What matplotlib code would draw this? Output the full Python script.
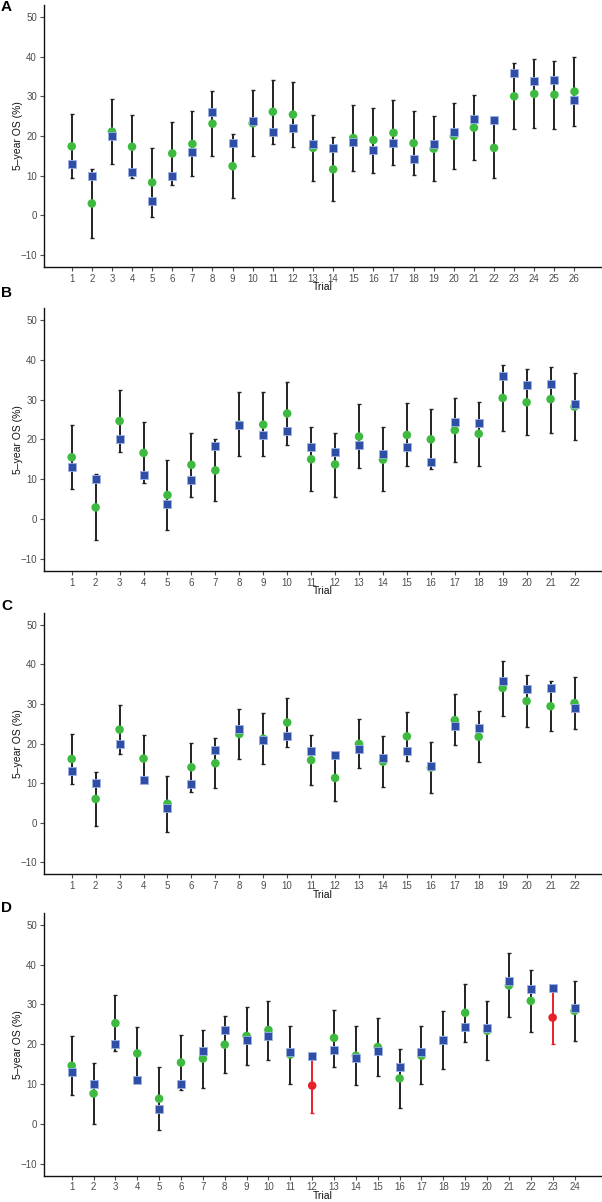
import matplotlib
matplotlib.use("Agg")
import matplotlib.pyplot as plt
import numpy as np

plt.rcParams['font.family'] = ['Liberation Sans', 'DejaVu Sans']

# ---------------- data ----------------
# Panel A (26 trials)
a_obs = [13.0, 10.0, 20.0, 11.0, 3.7, 9.9, 16.0, 26.0, 18.3, 23.7, 21.0, 22.1, 18.0,
         17.0, 18.5, 16.5, 18.2, 14.3, 18.0, 21.1, 24.4, 24.1, 35.9, 33.8, 34.1, 29.1]
a_pred = [17.4, 3.0, 21.1, 17.3, 8.3, 15.6, 18.0, 23.1, 12.4, 23.2, 26.1, 25.4, 17.0,
          11.6, 19.5, 19.0, 20.8, 18.2, 16.8, 20.0, 22.1, 17.0, 30.0, 30.6, 30.4, 31.2]
a_lo = [9.4, -5.8, 13.0, 9.4, -0.4, 7.6, 9.8, 15.0, 4.4, 15.0, 18.0, 17.3, 8.7,
        3.5, 11.2, 10.8, 12.8, 10.2, 8.6, 11.8, 13.9, 9.3, 21.7, 22.0, 21.7, 22.5]
a_hi = [25.5, 11.8, 29.4, 25.2, 17.0, 23.6, 26.3, 31.4, 20.5, 31.5, 34.1, 33.7, 25.3,
        19.7, 27.7, 27.1, 29.0, 26.4, 25.0, 28.3, 30.3, 24.7, 38.4, 39.3, 38.9, 39.9]

# Panel B (22 trials)
b_obs = [13.0, 10.0, 20.0, 11.0, 3.7, 9.8, 18.3, 23.6, 21.0, 22.0, 18.0,
         16.9, 18.5, 16.4, 18.0, 14.3, 24.3, 24.0, 35.8, 33.7, 34.0, 29.0]
b_pred = [15.5, 2.9, 24.6, 16.6, 6.0, 13.6, 12.2, 23.7, 23.7, 26.5, 15.0,
          13.7, 20.7, 14.9, 21.1, 20.0, 22.3, 21.4, 30.4, 29.3, 30.1, 28.2]
b_lo = [7.5, -5.4, 16.8, 9.0, -2.9, 5.6, 4.5, 15.8, 15.8, 18.5, 7.0,
        5.6, 12.7, 6.9, 13.2, 12.5, 14.2, 13.4, 22.2, 21.1, 21.7, 19.9]
b_hi = [23.5, 11.3, 32.5, 24.3, 14.8, 21.7, 20.0, 32.0, 31.8, 34.5, 23.1,
        21.7, 28.8, 23.1, 29.1, 27.7, 30.3, 29.4, 38.6, 37.6, 38.3, 36.7]

# Panel C (22 trials)
c_obs = [13.0, 10.0, 20.0, 10.9, 3.7, 9.9, 18.3, 23.7, 21.0, 22.0, 18.0,
         17.0, 18.5, 16.4, 18.1, 14.3, 24.3, 24.0, 35.8, 33.7, 34.1, 29.0]
c_pred = [16.1, 6.0, 23.5, 16.2, 4.8, 14.0, 15.0, 22.4, 21.2, 25.3, 15.8,
          11.3, 19.9, 15.4, 21.8, 13.9, 25.9, 21.7, 34.0, 30.7, 29.4, 30.2]
c_lo = [9.8, -0.7, 17.4, 10.3, -2.3, 7.8, 8.8, 16.1, 14.8, 19.0, 9.5,
        5.4, 13.7, 9.1, 15.7, 7.5, 19.5, 15.4, 27.0, 24.2, 23.2, 23.6]
c_hi = [22.3, 12.7, 29.8, 22.1, 11.9, 20.2, 21.5, 28.8, 27.6, 31.5, 22.1,
        17.0, 26.3, 21.9, 27.9, 20.4, 32.4, 28.1, 40.9, 37.3, 35.7, 36.8]

# Panel D (24 trials)
d_obs = [13.1, 10.1, 20.0, 11.1, 3.8, 9.9, 18.4, 23.7, 21.1, 22.1, 18.1, 17.0,
         18.5, 16.6, 18.2, 14.3, 18.1, 21.1, 24.4, 24.1, 35.9, 33.8, 34.1, 29.0]
d_pred = [14.6, 7.6, 25.3, 17.7, 6.3, 15.4, 16.4, 19.9, 22.1, 23.6, 17.4, 9.6,
          21.6, 17.1, 19.3, 11.4, 17.1, 21.1, 27.9, 23.4, 34.8, 30.9, 26.7, 28.4]
d_lo = [7.3, 0.0, 18.4, 11.1, -1.6, 8.6, 9.1, 12.8, 14.8, 16.1, 10.1, 2.7,
        14.4, 9.8, 12.0, 4.0, 9.9, 13.7, 20.5, 16.1, 26.8, 23.2, 20.0, 20.9]
d_hi = [22.0, 15.4, 32.3, 24.4, 14.3, 22.4, 23.7, 27.0, 29.4, 30.9, 24.7, 16.5,
        28.7, 24.5, 26.6, 18.9, 24.5, 28.3, 35.2, 30.8, 43.0, 38.6, 33.3, 36.0]
d_red = [12, 23]  # trials highlighted in red

panel_labels = ["A", "B", "C", "D"]
y_ticks = [-10, 0, 10, 20, 30, 40, 50]

# ---------------- style ----------------
W, H = 602, 1202
GREEN = "#3dba3f"
BLUE = "#2f4ea6"
BLUE_EDGE = "#9fb2e6"
RED = "#e8202a"
BAR = "#222222"
TICKC = "#4d4d4d"

fig = plt.figure(figsize=(W / 100, H / 100), dpi=100)

# axes pixel boxes: (top, bottom)
boxes = [(5, 267), (308, 570.7), (612.7, 874.3), (913, 1175.5)]
label_y = [7, 293, 606, 908]
x_left, x_right = 44, 601
first_px, last_px = 71.7, 574.5

panels = [(a_obs, a_pred, a_lo, a_hi), (b_obs, b_pred, b_lo, b_hi),
          (c_obs, c_pred, c_lo, c_hi), (d_obs, d_pred, d_lo, d_hi)]

for i, (obs, pred, lo, hi) in enumerate(panels):
    top, bot = boxes[i]
    h_px = bot - top
    w_px = x_right - x_left
    ax = fig.add_axes([x_left / W, 1 - bot / H, w_px / W, h_px / H])
    n = len(obs)
    trials = np.arange(1, n + 1)
    sp = (last_px - first_px) / (n - 1)
    ax.set_xlim(1 - (first_px - x_left) / sp, n + (x_right - last_px) / sp)
    ax.set_ylim(-13, 53)

    red = d_red if i == 3 else []
    cols = [RED if t in red else BAR for t in trials]
    pcols = [RED if t in red else GREEN for t in trials]
    for t, p, l, h, c in zip(trials, pred, lo, hi, cols):
        ax.errorbar([t], [p], yerr=[[p - l], [h - p]], fmt="none", ecolor=c,
                    elinewidth=1.4, capsize=1.3, capthick=1.0, zorder=2)
    ax.scatter(trials, pred, s=38, marker="o", color=pcols, edgecolors="none", zorder=3)
    ax.scatter(trials, obs, s=34, marker="s", color=BLUE, edgecolors=BLUE_EDGE,
               linewidths=0.6, zorder=4)

    for s in ["top", "right"]:
        ax.spines[s].set_visible(False)
    for s in ["left", "bottom"]:
        ax.spines[s].set_linewidth(1.0)
        ax.spines[s].set_color("#111111")
    ax.set_xticks(trials)
    ax.set_xticklabels([str(t) for t in trials])
    ax.set_yticks(y_ticks)
    ax.tick_params(axis="both", labelsize=7, colors=TICKC, length=3, width=0.8, pad=2)
    ax.set_ylabel("5–year OS (%)", fontsize=7.5, color="#111111")
    ax.yaxis.set_label_coords(-21.0 / w_px, 0.5)
    ax.set_xlabel("Trial", fontsize=7.5, color="#111111")
    ax.xaxis.set_label_coords(0.5, -15.5 / h_px)
    fig.text(1 / W, 1 - label_y[i] / H, panel_labels[i], fontsize=11, fontweight="bold",
             ha="left", va="center", color="#000000")

fig.savefig("out.png", dpi=100)
